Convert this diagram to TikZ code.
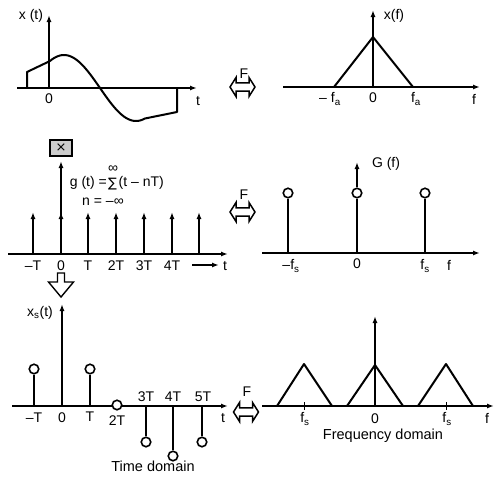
\documentclass[tikz,border=0pt]{standalone}
\usepackage{fontspec}
\setmainfont{Liberation Sans}
\newfontfamily\symfont{DejaVu Sans}
\usetikzlibrary{arrows.meta}
\tikzset{
  ax/.style={line width=1.4pt, -{Latex[length=7pt,width=5pt]}},
  imp/.style={line width=1.6pt, -{Latex[length=7pt,width=5pt]}},
  sig/.style={line width=2pt, line join=round},
  lbl/.style={font=\fontsize{14}{16}\selectfont, inner sep=0pt},
  dom/.style={font=\fontsize{14.5}{16}\selectfont, inner sep=0pt},
  circ/.style={circle, draw, line width=1.6pt, fill=white, minimum size=9.5pt, inner sep=0pt},
  farrow/.style={line width=1.5pt, line join=miter},
  tick/.style={line width=1pt},
}
\newcommand\FTarrow[1]{%
  \draw[farrow, shift={#1}] (-12.5,0) -- (-6.5,-9.5) -- (-6.5,-4.2) -- (6.5,-4.2) -- (6.5,-9.5) -- (12.5,0) -- (6.5,9.5) -- (6.5,4.2) -- (-6.5,4.2) -- (-6.5,9.5) -- cycle;}
\begin{document}
\begin{tikzpicture}[x=1pt,y=-1pt]
\useasboundingbox (0,0) rectangle (500,477);
% ---------- top left: x(t)
\draw[ax] (17,88) -- (197,88);
\draw[ax] (49,88) -- (49,15);
\draw[sig] (27,88) -- (27,72) -- (50,61) -- plot[domain=50:145,samples=50] (\x,{88+33*sin(2.5*(\x-100))}) -- (177,112) -- (177,88);
\node[lbl] (xt) at (31,16) {x (t)};
\node[lbl] (z1) at (49,99) {0};
\node[lbl] (t1) at (198,101) {t};
% ---------- top right: X(f)
\draw[ax] (283,87) -- (480,87);
\draw[ax] (373,87) -- (373,10);
\draw[sig] (334,87) -- (373,37) -- (413,87);
\node[lbl] (xf) at (394,16) {x(f)};
\node[lbl] (mfa) at (330,99) {– f\textsubscript{a}};
\node[lbl] (z2) at (373,98) {0};
\node[lbl] (fa) at (416,99) {f\textsubscript{a}};
\node[lbl] (f2) at (474,99) {f};
% F arrow 1
\FTarrow{(242.5,87)}
\node[lbl] (F1) at (244,74) {F};
% ---------- middle left: g(t)
\draw[ax] (8,254) -- (228,254);
\foreach \xx in {33,61,88,116,144,172,199}{\draw[imp] (\xx,254) -- (\xx,212);}
\node[draw, line width=1.4pt, fill=gray!40, minimum width=22pt, minimum height=16pt, inner sep=0pt, font=\symfont\fontsize{13}{14}\selectfont] (mult) at (61,148) {×};
\draw[ax] (61,254) -- (61,161);
\node[lbl, anchor=east] (geq) at (107,183) {g (t) =};
\node[font=\symfont\fontsize{13}{14}\selectfont, inner sep=0pt] (sig) at (112.5,184) {∑};
\node[lbl, anchor=west] (garg) at (118.5,183) {(t – nT)};
\node[lbl] (inf) at (113,169) {∞};
\node[lbl] (nlow) at (103,202) {n = –∞};
\node[lbl] (lmT) at (33,266) {–T};
\node[lbl] (l0) at (61,266) {0};
\node[lbl] (lT) at (88,266) {T};
\node[lbl] (l2T) at (116,266) {2T};
\node[lbl] (l3T) at (144,266) {3T};
\node[lbl] (l4T) at (172,266) {4T};
\coordinate (ta) at (192,265);
\coordinate (tb) at (219,265);
\draw[ax] (ta) -- (tb);
\node[lbl] (t2) at (225,266) {t};
% hollow down arrow
\draw[line width=1.4pt, line join=miter] (57.5,273) -- (64.5,273) -- (64.5,282) -- (73.5,282) -- (61,297) -- (48.5,282) -- (57.5,282) -- cycle;
% ---------- middle right: G(f)
\draw[ax] (262,253) -- (480,253);
\node[circ] (c1) at (288,193) {};
\node[circ] (c2) at (357,193) {};
\node[circ] (c3) at (425,193) {};
\draw[sig] (288,253) -- (c1.south);
\draw[sig] (357,253) -- (c2.south);
\draw[sig] (425,253) -- (c3.south);
\draw[ax] (c2.north) -- (357,162);
\node[lbl] (Gf) at (386,164) {G (f)};
\node[lbl] (mfs) at (291,266) {–f\textsubscript{s}};
\node[lbl] (z3) at (357,264) {0};
\node[lbl] (fs) at (425,266) {f\textsubscript{s}};
\node[lbl] (f3) at (449,265) {f};
% F arrow 2
\FTarrow{(242.5,212)}
\node[lbl] (F2) at (244,195) {F};
% ---------- bottom left: xs(t)
\draw[ax] (12,406) -- (228,406);
\draw[ax] (62,406) -- (62,304);
\node[lbl] (xst) at (40,313) {x\textsubscript{s}(t)};
\node[circ] (s1) at (34,369) {};
\node[circ] (s2) at (90,369) {};
\node[circ] (s3) at (117,405) {};
\node[circ] (s4) at (146,442) {};
\node[circ] (s5) at (173,456) {};
\node[circ] (s6) at (202,442) {};
\draw[sig] (34,406) -- (s1.south);
\draw[sig] (90,406) -- (s2.south);
\draw[sig] (146,406) -- (s4.north);
\draw[sig] (173,406) -- (s5.north);
\draw[sig] (202,406) -- (s6.north);
\node[lbl] (bmT) at (34,418) {–T};
\node[lbl] (b0) at (62,418) {0};
\node[lbl] (bT) at (90,417) {T};
\node[lbl] (b2T) at (117,421) {2T};
\node[lbl] (b3T) at (146,397) {3T};
\node[lbl] (b4T) at (173,397) {4T};
\node[lbl] (b5T) at (203,397) {5T};
\node[lbl] (t3) at (223,418) {t};
\node[dom] (td) at (153,466) {Time domain};
% ---------- bottom right: Xs(f)
\draw[ax] (262,406) -- (494,406);
\draw[ax] (375,406) -- (375,316);
\draw[sig] (277,406) -- (304,364) -- (332,406);
\draw[sig] (347,406) -- (375,365) -- (403,406);
\draw[sig] (418,406) -- (446,364) -- (473,406);
\draw[tick] (304,402) -- (304,410);
\draw[tick] (446,402) -- (446,410);
\node[lbl] (bfs1) at (305,419) {f\textsubscript{s}};
\node[lbl] (bz) at (375,419) {0};
\node[lbl] (bfs2) at (447,419) {f\textsubscript{s}};
\node[lbl] (bf) at (487,418) {f};
\node[dom] (fd) at (383,436) {Frequency domain};
% F arrow 3
\FTarrow{(246,412)}
\node[lbl] (F3) at (247,392) {F};
\end{tikzpicture}
\end{document}
